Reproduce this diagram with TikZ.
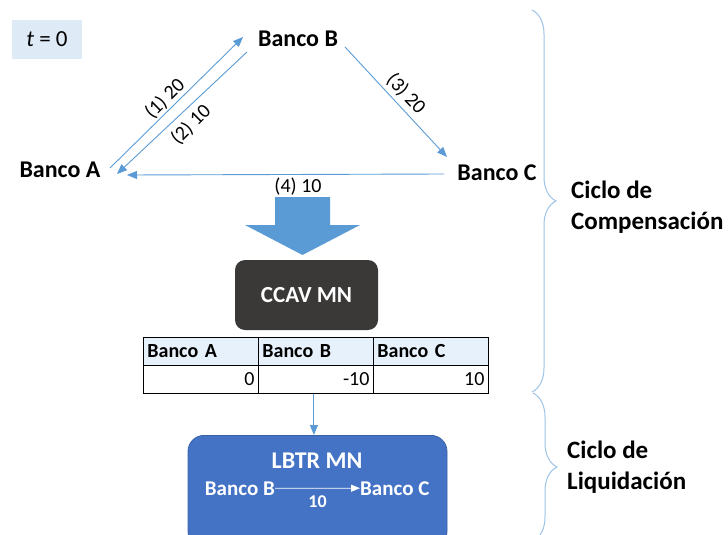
\documentclass[tikz,border=0pt]{standalone}
\usepackage{fontspec}
\setmainfont{Carlito}
\usetikzlibrary{arrows.meta,decorations.pathreplacing}
\definecolor{lblue}{RGB}{91,155,213}
\definecolor{brc}{RGB}{157,195,230}
\definecolor{tbox}{RGB}{222,235,247}
\definecolor{darkbox}{RGB}{59,56,56}
\definecolor{lbtrc}{RGB}{68,114,196}
\definecolor{hdr}{RGB}{231,241,251}
\begin{document}
\begin{tikzpicture}[x=1pt,y=1pt,
  bank/.style={font=\fontsize{24}{28}\selectfont\bfseries, inner sep=0, anchor=base},
  flow/.style={draw=lblue, line width=0.9pt, -{Triangle[length=10pt,width=8pt]}},
  lbl/.style={font=\fontsize{20}{22}\selectfont, inner sep=0},
  cell/.style={draw=black, line width=0.8pt, minimum height=28pt, inner xsep=4pt, inner ysep=0pt,
    text width=107pt, anchor=north west, font=\fontsize{20}{22}\selectfont},
  hcell/.style={cell, fill=hdr, align=left, font=\fontsize{20}{22}\selectfont\bfseries},
  vcell/.style={cell, fill=white, align=right},
  cyc/.style={font=\fontsize{25}{31}\selectfont\bfseries, align=left, inner sep=0, anchor=north west},
  brace/.style={draw=brc, line width=1pt, decorate, decoration={brace, amplitude=24pt}},
  inbox/.style={text=white, inner sep=0, anchor=base}]
\useasboundingbox (0,0) rectangle (728,-535);
\clip (0,0) rectangle (728,-535);

% t = 0 box
\node[fill=tbox, minimum width=70pt, minimum height=39pt, inner sep=0,
  font=\fontsize{23}{26}\selectfont] (tz) at (47,-39.5) {\textit{t} = 0};

% banks
\node[bank] (A) at (60,-177) {Banco A};
\node[bank] (B) at (298,-47) {Banco B};
\node[bank] (C) at (497,-180) {Banco C};

% arrow end points
\coordinate (p1s) at (110,-168);
\coordinate (p1e) at (243,-37);
\coordinate (p2s) at (247,-52);
\coordinate (p2e) at (117,-174);
\coordinate (p3s) at (345,-47);
\coordinate (p3e) at (447,-157);
\coordinate (p4s) at (444,-174);
\coordinate (p4e) at (127,-175);

\draw[flow] (p1s) -- (p1e);
\draw[flow] (p2s) -- (p2e);
\draw[flow] (p3s) -- (p3e);
\draw[flow] (p4s) -- (p4e);

\node[lbl, rotate=44.6] (l1) at (165,-99) {(1) 20};
\node[lbl, rotate=44.6] (l2) at (191,-125) {(2) 10};
\node[lbl, rotate=-47] (l3) at (406,-94) {(3) 20};
\node[lbl, anchor=base] (l4) at (298,-192) {(4) 10};

% block arrow
\fill[lblue] (275,-197) -- (330,-197) -- (330,-225) -- (360,-225) -- (302.5,-255)
  -- (245,-225) -- (275,-225) -- cycle;

% CCAV box
\node[fill=darkbox, rounded corners=10pt, minimum width=143pt, minimum height=70pt,
  text=white, font=\fontsize{23}{26}\selectfont\bfseries] (ccav) at (306.5,-295) {CCAV MN};

% table
\node[hcell] (hA) at (143,-337) {Banco A};
\node[hcell] (hB) at (258,-337) {Banco B};
\node[hcell] (hC) at (373,-337) {Banco C};
\node[vcell] (vA) at (143,-365) {0};
\node[vcell] (vB) at (258,-365) {-10};
\node[vcell] (vC) at (373,-365) {10};

% LBTR box
\node[fill=lbtrc, draw=lbtrc!85!black, line width=0.8pt, rounded corners=16pt,
  minimum width=259pt, minimum height=112pt, anchor=north] (lbtr) at (317.5,-435) {};
\draw[flow] ([xshift=-2pt]vB.south) -- ([xshift=-2pt]vB.south |- lbtr.north);

\node[inbox, font=\fontsize{24}{26}\selectfont\bfseries] (lt) at (317,-468) {LBTR MN};
\node[inbox, anchor=base east, font=\fontsize{21}{24}\selectfont\bfseries] (bb) at (275,-495) {Banco B};
\node[inbox, anchor=base west, font=\fontsize{21}{24}\selectfont\bfseries] (bc) at (360,-495) {Banco C};
\draw[white, line width=0.8pt, -{Triangle[length=9pt,width=7pt]}] (bb.east) --
  node[below=7pt, inner sep=0, text=white, font=\fontsize{18}{20}\selectfont\bfseries] (ten) {10} (bc.west);

% braces
\draw[brace] (532,-10) -- (532,-392);
\draw[brace] (533,-393) -- (533,-541);

\node[cyc] (lc) at (571,-181) {Ciclo de\\Compensación};
\node[cyc] (ll) at (567,-441) {Ciclo de\\Liquidación};
\end{tikzpicture}
\end{document}
